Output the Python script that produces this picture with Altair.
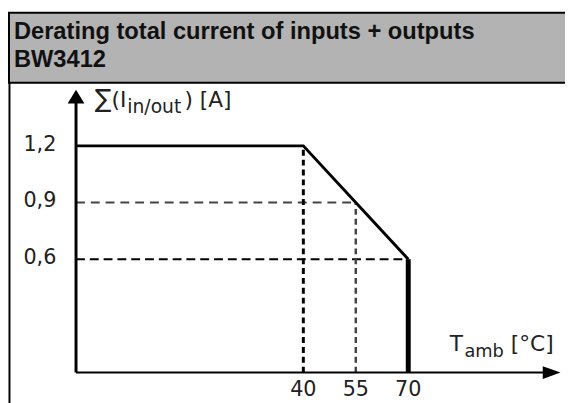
import altair as alt
import pandas as pd

# ---- data ----
title_text = "Derating total current of inputs + outputs\nBW3412"

curve_temp = [-25, 40, 70]          # T_amb [°C]
curve_current = [1.2, 1.2, 0.6]     # sum I in/out [A]
cutoff_temp = [70]
cutoff_current = [0.6]

guide_v_temp = [40, 55]
guide_v_top = [1.2, 0.9]
guide_h_level = [0.9, 0.6]
guide_h_end = [55, 70]

x_ticks = [40, 55, 70]
x_tick_labels = ["40", "55", "70"]
y_ticks = [1.2, 0.9, 0.6]
y_tick_labels = ["1,2", "0,9", "0,6"]

x_min = -25
x_arrow = 111
y_arrow = 1.46

FONT = "DejaVu Sans"

xs = alt.Scale(domain=[-25, 70], range=[69, 406], nice=False, zero=False)
ys = alt.Scale(domain=[0, 1.2], range=[367, 137], nice=False, zero=False)


def X(f):
    return alt.X(f, type="quantitative", scale=xs, axis=None)


def Y(f):
    return alt.Y(f, type="quantitative", scale=ys, axis=None)


def label(txt, x, y, size):
    return alt.Chart(pd.DataFrame({"t": [txt]})).mark_text(
        font=FONT, fontSize=size, align="left", baseline="alphabetic", color="#222"
    ).encode(x=alt.value(x), y=alt.value(y), text="t:N")


# header box
header = alt.Chart(pd.DataFrame({"a": [0]})).mark_rect(
    fill="#b3b3b3", stroke="black", strokeWidth=2
).encode(x=alt.value(1), x2=alt.value(620), y=alt.value(2), y2=alt.value(73))

left_border = alt.Chart(pd.DataFrame({"a": [0]})).mark_rule(
    color="black", strokeWidth=2
).encode(x=alt.value(1.5), y=alt.value(73), y2=alt.value(420))

title = alt.Chart(pd.DataFrame({"t": [title_text]})).mark_text(
    font="Liberation Sans", fontWeight="bold", fontSize=24, align="left",
    baseline="alphabetic", lineBreak="\n", lineHeight=28, color="#111"
).encode(x=alt.value(6), y=alt.value(29), text="t:N")

# axes
axes_df = pd.DataFrame({"x0": [x_min, x_min], "x1": [x_min, x_arrow - 2],
                        "y0": [0, 0], "y1": [y_arrow - 0.02, 0]})
y_axis = alt.Chart(axes_df.iloc[[0]]).mark_rule(color="black", strokeWidth=3).encode(
    x=X("x0"), y=Y("y0"), y2="y1")
x_axis = alt.Chart(axes_df.iloc[[1]]).mark_rule(color="black", strokeWidth=2).encode(
    x=X("x0"), x2="x1", y=Y("y0"))

y_head = alt.Chart(pd.DataFrame({"x": [x_min], "y": [y_arrow]})).mark_point(
    shape="M0,-0.82L-1,0.82L1,0.82Z", size=289, filled=True, color="black", opacity=1
).encode(x=X("x"), y=Y("y"))
x_head = alt.Chart(pd.DataFrame({"x": [x_arrow], "y": [0]})).mark_point(
    shape="M1,0L-1,-0.72L-1,0.72Z", size=324, filled=True, color="black", opacity=1
).encode(x=X("x"), y=Y("y"))

# guides
gv = pd.DataFrame({"x": guide_v_temp, "top": guide_v_top, "b": [0, 0]})
gh = pd.DataFrame({"y": guide_h_level, "end": guide_h_end, "s": [x_min, x_min]})
v40 = alt.Chart(gv.iloc[[0]]).mark_rule(color="black", strokeWidth=3, strokeDash=[6, 4]).encode(
    x=X("x"), y=Y("b"), y2="top")
v55 = alt.Chart(gv.iloc[[1]]).mark_rule(color="#444", strokeWidth=2.5, strokeDash=[6, 4]).encode(
    x=X("x"), y=Y("b"), y2="top")
h09 = alt.Chart(gh.iloc[[0]]).mark_rule(color="#444", strokeWidth=2, strokeDash=[9, 6]).encode(
    x=X("s"), x2="end", y=Y("y"))
h06 = alt.Chart(gh.iloc[[1]]).mark_rule(color="black", strokeWidth=2, strokeDash=[9, 5]).encode(
    x=X("s"), x2="end", y=Y("y"))

# curve
curve = alt.Chart(pd.DataFrame({"t": curve_temp, "i": curve_current})).mark_line(
    color="black", strokeWidth=3
).encode(x=X("t"), y=Y("i"))
cutoff = alt.Chart(pd.DataFrame({"t": cutoff_temp, "i": cutoff_current, "b": [0]})).mark_rule(
    color="black", strokeWidth=5
).encode(x=X("t"), y=Y("b"), y2="i")

# tick labels
xt = alt.Chart(pd.DataFrame({"x": x_ticks, "lab": x_tick_labels, "y": [0, 0, 0]})).mark_text(
    font=FONT, fontSize=21, align="center", baseline="alphabetic", dy=24, color="#222"
).encode(x=X("x"), y=Y("y"), text="lab:N")
yt = alt.Chart(pd.DataFrame({"y": y_ticks, "lab": y_tick_labels, "x": [x_min] * 3})).mark_text(
    font=FONT, fontSize=21, align="right", baseline="middle", dx=-20, dy=-1, color="#222"
).encode(x=X("x"), y=Y("y"), text="lab:N")

# axis titles (with subscripts)
ylab_sigma = label("∑", 88, 98, 25)
ylab_main = label("(I", 105, 98, 22)
ylab_sub = label("in/out", 121, 104, 19)
ylab_end = label(") [A]", 179, 98, 22)

xlab_main = label("T", 448, 345, 22)
xlab_sub = label("amb", 463, 351, 18)
xlab_end = label("[°C]", 510, 345, 22)

chart = alt.layer(
    header, left_border, title,
    h09, h06, v40, v55,
    curve, cutoff,
    y_axis, x_axis, y_head, x_head,
    xt, yt,
    ylab_sigma, ylab_main, ylab_sub, ylab_end, xlab_main, xlab_sub, xlab_end,
).properties(
    width=565, height=395, padding=0, autosize=alt.AutoSizeParams(type="none"),
    background="white"
).configure_view(stroke=None)

chart.save("out.html", embed_options={"renderer": "svg", "actions": False})
